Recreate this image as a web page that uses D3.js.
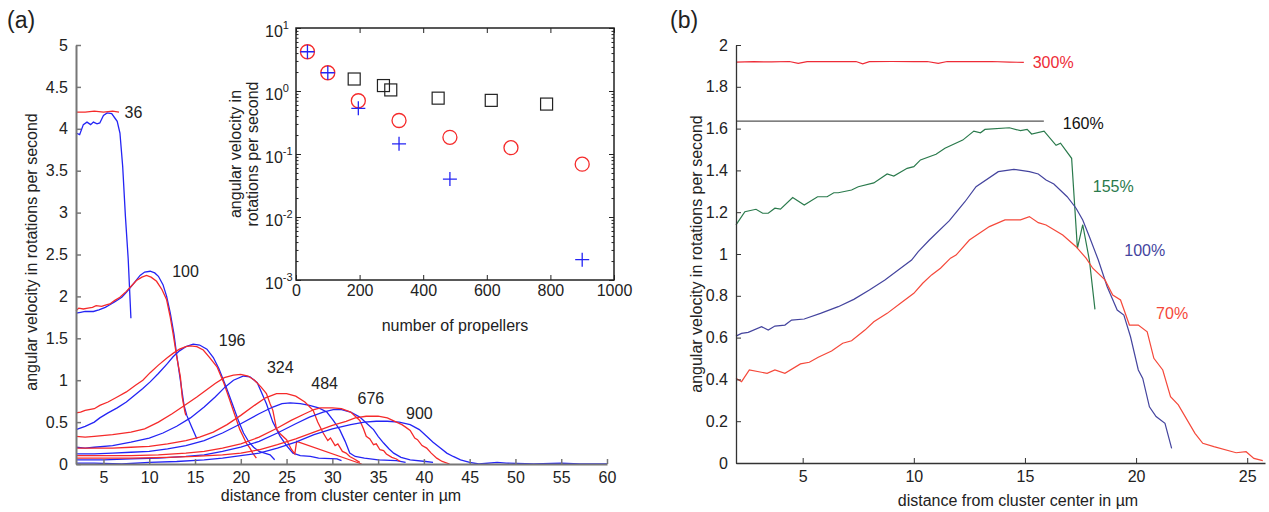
<!DOCTYPE html>
<html>
<head>
<meta charset="utf-8">
<script src="https://cdn.jsdelivr.net/npm/d3@7/dist/d3.min.js"></script>
<style>
  body { margin: 0; background: #fff; }
  svg text { font-family: "Liberation Sans", Arial, sans-serif; fill: #222; }
</style>
</head>
<body>
<div id="chart"></div>
<script>
// ---------------------------------------------------------------------------
// Datos panel (a): perfiles por numero de helices (x en um, y en rot/s)
// ---------------------------------------------------------------------------
var red36  = [[2,4.2],[3,4.2],[4,4.21],[5,4.2],[6,4.21],[6.7,4.2]];
var blue36 = [[2,3.95],[2.4,3.93],[2.8,4.05],[3.2,4.08],[3.6,4.05],[3.9,4.08],[4.3,4.06],[4.6,4.07],[5.0,4.16],[5.4,4.19],[5.9,4.18],[6.3,4.12],[6.5,4.09],[6.8,3.95],[7.1,3.55],[7.4,2.95],[7.7,2.45],[8.0,1.74]];

var red100  = [[2,1.83],[2.3,1.86],[2.8,1.85],[3.3,1.86],[3.8,1.87],[4.2,1.89],[4.8,1.88],[5.3,1.9],[5.7,1.91],[6.2,1.95],[6.8,1.99],[7.5,2.06],[8.1,2.13],[8.6,2.19],[9.2,2.23],[9.7,2.25],[10.2,2.23],[10.8,2.18],[11.4,2.08],[11.9,1.96],[12.3,1.75],[12.6,1.56],[13.0,1.28],[13.4,1.04],[13.6,0.8],[13.9,0.62],[14.0,0.58]];
var blue100 = [[2,1.8],[2.5,1.81],[3,1.82],[3.9,1.82],[4.5,1.84],[5.2,1.87],[5.7,1.9],[6.3,1.94],[7,1.99],[7.5,2.05],[8.2,2.14],[9,2.25],[9.5,2.29],[10.1,2.3],[10.6,2.28],[11.0,2.24],[11.5,2.14],[11.9,2.0],[12.3,1.8],[12.7,1.55],[13.0,1.3],[13.4,1.0],[13.8,0.7],[14.1,0.58],[14.6,0.45],[15.2,0.3]];

var red196  = [[2,0.61],[2.5,0.62],[3,0.64],[4,0.66],[4.6,0.7],[5.5,0.74],[6.5,0.8],[7.5,0.86],[8.5,0.94],[9.3,1.0],[10.1,1.09],[11,1.18],[12,1.27],[12.6,1.32],[13.3,1.37],[14,1.4],[14.5,1.41],[15.2,1.4],[15.9,1.36],[16.6,1.27],[17.4,1.16],[18.1,0.98],[18.8,0.76],[19.3,0.6],[19.9,0.41],[20.3,0.32],[20.6,0.25],[21.0,0.19],[21.3,0.13],[21.7,0.07]];
var blue196 = [[2,0.41],[3,0.45],[4,0.5],[4.6,0.55],[5.5,0.61],[6.5,0.67],[7.5,0.74],[8.5,0.83],[9.3,0.9],[10.1,0.98],[11,1.08],[12,1.2],[12.6,1.28],[13.3,1.35],[14,1.4],[14.8,1.43],[15.5,1.42],[16.3,1.37],[17,1.27],[17.6,1.14],[18.4,0.92],[19.2,0.68],[19.8,0.5],[20.3,0.37],[20.9,0.26],[21.4,0.2],[22,0.15],[22.6,0.13],[23.2,0.11],[23.7,0.05]];

var red324  = [[2,0.33],[3,0.32],[4,0.33],[6,0.35],[8,0.38],[9.5,0.42],[11,0.5],[12.5,0.6],[14,0.71],[15.2,0.8],[16.2,0.88],[17.2,0.96],[18.2,1.03],[19.2,1.06],[20,1.07],[20.8,1.05],[21.5,1.0],[22.2,0.92],[22.8,0.84],[23.2,0.72],[23.5,0.64],[23.9,0.42],[24.3,0.36],[25,0.29],[25.5,0.18],[25.9,0.12],[26.1,0.27],[33.2,0.0]];
var blue324 = [[2,0.2],[3,0.19],[4,0.2],[6,0.22],[8,0.26],[10,0.31],[11.5,0.37],[13,0.45],[14.5,0.55],[16,0.68],[17.2,0.8],[18.3,0.92],[19.2,1.0],[20.3,1.05],[21,1.04],[21.8,0.97],[22.8,0.72],[23.5,0.5],[24.3,0.33],[25,0.22],[25.7,0.13],[26.5,0.1],[27.6,0.09],[28.5,0.07],[30.5,0.06],[31,0.04]];

var red484  = [[2,0.19],[4,0.19],[6,0.19],[8,0.2],[10,0.21],[12,0.24],[14,0.28],[15.5,0.32],[17,0.38],[18.5,0.47],[20,0.58],[21.5,0.7],[22.7,0.79],[23.9,0.84],[25,0.84],[26,0.81],[27,0.74],[27.9,0.64],[28.4,0.5],[29,0.37],[29.5,0.28],[29.8,0.31],[30.3,0.22],[30.6,0.24],[31.1,0.15],[31.5,0.13],[31.9,0.09],[32.4,0.06],[33,0.02]];
var blue484 = [[2,0.12],[4,0.12],[6,0.13],[8,0.14],[10,0.15],[12,0.18],[14,0.22],[16,0.28],[18,0.37],[20,0.48],[22,0.6],[23.5,0.68],[24.5,0.72],[25.4,0.73],[26.5,0.72],[27.5,0.7],[28.5,0.67],[29.4,0.62],[30.1,0.52],[30.8,0.41],[31.4,0.27],[31.9,0.13],[32.5,0.09],[33.5,0.07],[35,0.05],[37,0.04],[38,0.02]];

var red676  = [[2,0.1],[5,0.1],[8,0.1],[11,0.11],[14,0.13],[16,0.15],[18,0.19],[20,0.24],[22,0.32],[24,0.43],[25.5,0.52],[27,0.6],[28,0.65],[28.7,0.67],[30,0.67],[31,0.66],[32,0.62],[32.5,0.57],[33,0.52],[33.4,0.42],[33.7,0.33],[34.1,0.3],[34.5,0.23],[34.8,0.24],[35.2,0.17],[35.6,0.16],[35.9,0.12],[36.5,0.08],[37,0.06],[37.4,0.03]];
var blue676 = [[2,0.05],[5,0.05],[8,0.06],[11,0.07],[14,0.09],[16,0.11],[18,0.15],[20,0.2],[22,0.27],[24,0.37],[26,0.48],[27.5,0.56],[29,0.62],[30.1,0.65],[31,0.65],[32,0.62],[33,0.56],[33.8,0.48],[34.5,0.41],[35,0.33],[35.6,0.25],[36.2,0.18],[36.7,0.13],[37.5,0.08],[38.5,0.05],[40.2,0.03],[41,0.02]];

var red900  = [[2,0.07],[5,0.07],[8,0.07],[12,0.08],[15,0.09],[18,0.11],[20,0.13],[22,0.17],[24,0.23],[26,0.3],[28,0.38],[30,0.46],[31.5,0.51],[32.5,0.55],[33.7,0.57],[35,0.57],[36,0.55],[37,0.5],[37.6,0.47],[38,0.44],[38.5,0.4],[39,0.31],[39.3,0.29],[39.8,0.22],[40.3,0.19],[40.8,0.13],[41.4,0.07],[42,0.03],[42.8,0.0]];
var blue900 = [[2,0.01],[4,0.01],[7,0.0],[10,0.02],[13,0.03],[16,0.05],[18,0.07],[20,0.1],[22,0.13],[24,0.19],[26,0.26],[28,0.35],[30,0.42],[32,0.47],[33.5,0.5],[34.8,0.51],[36,0.51],[37.3,0.5],[38.5,0.47],[39.5,0.41],[40.3,0.33],[41,0.26],[41.8,0.19],[42.5,0.13],[43.2,0.09],[44,0.05],[45,0.02],[46,0.0],[48,0.02],[49,0.01],[52,0.0],[55,0.01],[57,0.0],[60,0.0]];

// etiquetas de cada curva: [texto, x, y]
var curveLabels = [["36",7.3,4.13],["100",12.5,2.23],["196",17.6,1.41],["324",22.85,1.08],["484",27.7,0.9],["676",32.75,0.72],["900",38.05,0.54]];

// ---------------------------------------------------------------------------
// Datos inset: velocidad vs numero de helices (escala log)
// ---------------------------------------------------------------------------
var insetCircles = [[36,4.2],[100,1.95],[196,0.70],[324,0.34],[484,0.184],[676,0.126],[900,0.069]];
var insetCrosses = [[36,4.2],[100,1.95],[196,0.53],[324,0.145],[484,0.04],[900,0.0021]];
var insetSquares = [[183,1.55],[275,1.22],[298,1.04],[447,0.77],[614,0.71],[788,0.62]];

// ---------------------------------------------------------------------------
// Datos panel (b): perfiles por porcentaje
// ---------------------------------------------------------------------------
var b300 = [[2,1.918],[2.8,1.92],[3.6,1.919],[4.4,1.921],[4.8,1.912],[5.2,1.92],[6,1.921],[6.8,1.92],[7.4,1.921],[7.7,1.91],[8,1.92],[9,1.921],[10,1.92],[10.6,1.921],[11.1,1.912],[11.5,1.921],[12.5,1.92],[13.5,1.921],[14.3,1.918],[14.95,1.917]];
var b160 = [[2,1.636],[15.85,1.636]];
var b155 = [[2.0,1.139],[2.4,1.202],[2.9,1.214],[3.2,1.195],[3.45,1.195],[3.75,1.219],[4.0,1.215],[4.55,1.27],[5.07,1.234],[5.67,1.274],[6.1,1.274],[6.4,1.293],[6.6,1.293],[7.2,1.306],[7.5,1.322],[8.2,1.34],[8.8,1.383],[9.1,1.373],[9.7,1.41],[10.0,1.418],[10.3,1.45],[11.0,1.477],[11.4,1.506],[12.2,1.545],[12.7,1.588],[13.0,1.58],[13.2,1.596],[14.3,1.604],[14.8,1.59],[15.1,1.596],[15.3,1.574],[15.86,1.588],[16.4,1.52],[16.6,1.53],[17.1,1.458],[17.36,1.027],[17.6,1.14],[17.9,0.97],[18.15,0.735]];
var b100 = [[2.0,0.607],[2.25,0.62],[2.55,0.625],[3.15,0.652],[3.45,0.636],[3.75,0.655],[4.2,0.66],[4.5,0.684],[5.07,0.689],[5.8,0.716],[6.6,0.748],[7.3,0.783],[8.0,0.828],[8.7,0.876],[9.3,0.923],[9.9,0.971],[10.2,1.011],[10.7,1.067],[11.6,1.16],[12.3,1.25],[12.8,1.322],[13.8,1.394],[14.5,1.405],[15.2,1.394],[15.6,1.383],[15.95,1.354],[16.3,1.335],[16.9,1.274],[17.3,1.219],[17.6,1.163],[17.9,1.083],[18.3,0.971],[18.7,0.843],[19.15,0.732],[19.45,0.708],[19.75,0.604],[20.1,0.445],[20.3,0.405],[20.6,0.269],[20.9,0.222],[21.3,0.19],[21.6,0.07]];
var b70  = [[2.0,0.405],[2.25,0.389],[2.6,0.445],[3.4,0.429],[3.75,0.445],[4.2,0.429],[4.9,0.474],[5.3,0.482],[5.7,0.506],[6.3,0.536],[6.8,0.573],[7.2,0.585],[7.8,0.636],[8.2,0.676],[8.8,0.716],[9.4,0.764],[10.0,0.812],[10.4,0.86],[10.8,0.9],[11.2,0.932],[11.65,0.98],[11.9,0.995],[12.5,1.067],[13.4,1.131],[14.1,1.163],[14.8,1.163],[15.2,1.179],[15.6,1.15],[15.95,1.139],[16.7,1.091],[17.3,1.035],[17.75,0.98],[18.05,0.932],[18.6,0.876],[18.95,0.804],[19.3,0.78],[19.7,0.66],[20.1,0.66],[20.5,0.628],[20.8,0.501],[21.2,0.445],[21.55,0.317],[21.9,0.278],[22.65,0.142],[23.0,0.094],[23.5,0.078],[24.5,0.049],[24.95,0.054],[25.3,0.022],[25.7,0.011]];

var bSeries = [
  {name:"300%", data:b300, color:"#ee2b36", text:"#ee2b36", lx:15.35, ly:1.92},
  {name:"160%", data:b160, color:"#555555", text:"#111111", lx:16.7, ly:1.625},
  {name:"155%", data:b155, color:"#2a7a4c", text:"#2a7a4c", lx:18.05, ly:1.325},
  {name:"100%", data:b100, color:"#44449e", text:"#44449e", lx:19.47, ly:1.02},
  {name:"70%",  data:b70,  color:"#f5483a", text:"#f5483a", lx:20.9, ly:0.72}
];

// ---------------------------------------------------------------------------
var svg = d3.select("#chart").append("svg")
    .attr("width", 1269)
    .attr("height", 512);

// ============================ Panel (a) ====================================
var xa = d3.scaleLinear().domain([2, 60]).range([76, 607]);
var ya = d3.scaleLinear().domain([0, 5]).range([464, 45]);

var lineA = d3.line()
    .x(function(d) { return xa(d[0]); })
    .y(function(d) { return ya(d[1]); });

var pairs = [[red36,blue36],[red100,blue100],[red196,blue196],[red324,blue324],[red484,blue484],[red676,blue676],[red900,blue900]];

var ga = svg.append("g");
pairs.forEach(function(p) {
  ga.append("path").attr("d", lineA(p[1]))
    .attr("fill","none").attr("stroke","#2424f4").attr("stroke-width",1.3);
  ga.append("path").attr("d", lineA(p[0]))
    .attr("fill","none").attr("stroke","#f52a2a").attr("stroke-width",1.3);
});

ga.selectAll(".clab")
  .data(curveLabels)
  .enter().append("text")
    .attr("x", function(d) { return xa(d[1]); })
    .attr("y", function(d) { return ya(d[2]); })
    .attr("font-size", 16)
    .text(function(d) { return d[0]; });

// ejes (a)
var axA_x = svg.append("g")
    .attr("transform", "translate(0,464)")
    .call(d3.axisBottom(xa).tickValues(d3.range(5, 61, 5)).tickSizeInner(-5).tickSizeOuter(0).tickPadding(8));
var axA_y = svg.append("g")
    .attr("transform", "translate(76,0)")
    .call(d3.axisLeft(ya).tickValues(d3.range(0, 5.01, 0.5)).tickFormat(d3.format("~g")).tickSizeInner(-5).tickSizeOuter(0).tickPadding(8));
[axA_x, axA_y].forEach(function(g) {
  g.attr("font-size", 16);
  g.select(".domain").attr("stroke", "#777").attr("stroke-width", 2);
  g.selectAll(".tick line").attr("stroke", "#777").attr("stroke-width", 1.5);
});

svg.append("text")
    .attr("transform", "translate(37,252) rotate(-90)")
    .attr("text-anchor", "middle")
    .attr("font-size", 16)
    .text("angular velocity in rotations per second");
svg.append("text")
    .attr("x", 341).attr("y", 501)
    .attr("text-anchor", "middle")
    .attr("font-size", 16)
    .text("distance from cluster center in µm");
svg.append("text").attr("x", 7).attr("y", 28).attr("font-size", 23).text("(a)");

// ============================ Inset ========================================
var xi = d3.scaleLinear().domain([0, 1000]).range([296, 614]);
var yi = d3.scaleLog().domain([1e-3, 10]).range([280, 28]);

var gi = svg.append("g");
gi.append("rect")
    .attr("x", 296).attr("y", 28).attr("width", 318).attr("height", 252)
    .attr("fill", "#fff");

var allLogTicks = yi.ticks();
var isMajor = function(v) { return Math.abs(Math.log10(v) - Math.round(Math.log10(v))) < 1e-6; };
var minorTicks = allLogTicks.filter(function(v) { return !isMajor(v); });
var majorTicks = allLogTicks.filter(isMajor);

function styleInsetAxis(g) {
  g.select(".domain").remove();
  g.selectAll(".tick line").attr("stroke", "#222").attr("stroke-width", 1);
}
gi.append("g").attr("transform", "translate(0,280)")
  .call(d3.axisBottom(xi).tickValues(d3.range(0, 1001, 200)).tickFormat(d3.format("d")).tickSizeInner(-5).tickSizeOuter(0).tickPadding(5))
  .attr("font-size", 16).call(styleInsetAxis);
gi.append("g").attr("transform", "translate(0,28)")
  .call(d3.axisTop(xi).tickValues(d3.range(0, 1001, 200)).tickSizeInner(-5).tickSizeOuter(0).tickFormat(""))
  .call(styleInsetAxis);
gi.append("g").attr("transform", "translate(296,0)")
  .call(d3.axisLeft(yi).tickValues(majorTicks).tickSizeInner(-5).tickSizeOuter(0).tickFormat(""))
  .call(styleInsetAxis);
gi.append("g").attr("transform", "translate(296,0)")
  .call(d3.axisLeft(yi).tickValues(minorTicks).tickSizeInner(-2.5).tickSizeOuter(0).tickFormat(""))
  .call(styleInsetAxis);
gi.append("g").attr("transform", "translate(614,0)")
  .call(d3.axisRight(yi).tickValues(majorTicks).tickSizeInner(-5).tickSizeOuter(0).tickFormat(""))
  .call(styleInsetAxis);
gi.append("g").attr("transform", "translate(614,0)")
  .call(d3.axisRight(yi).tickValues(minorTicks).tickSizeInner(-2.5).tickSizeOuter(0).tickFormat(""))
  .call(styleInsetAxis);

// etiquetas 10^n
var ylab = gi.selectAll(".ylog")
  .data(majorTicks)
  .enter().append("text")
    .attr("x", 265)
    .attr("y", function(d) { return yi(d) + 9; })
    .attr("font-size", 16);
ylab.append("tspan").text("10");
ylab.append("tspan")
    .attr("dy", -8)
    .attr("font-size", 11)
    .text(function(d) { return Math.round(Math.log10(d)); });

gi.append("rect")
    .attr("x", 296).attr("y", 28).attr("width", 318).attr("height", 252)
    .attr("fill", "none").attr("stroke", "#222").attr("stroke-width", 1.5);

// marcadores
gi.selectAll(".sq")
  .data(insetSquares)
  .enter().append("rect")
    .attr("x", function(d) { return xi(d[0]) - 6; })
    .attr("y", function(d) { return yi(d[1]) - 6; })
    .attr("width", 12).attr("height", 12)
    .attr("fill", "none").attr("stroke", "#222").attr("stroke-width", 1.2);
gi.selectAll(".ci")
  .data(insetCircles)
  .enter().append("circle")
    .attr("cx", function(d) { return xi(d[0]); })
    .attr("cy", function(d) { return yi(d[1]); })
    .attr("r", 7)
    .attr("fill", "none").attr("stroke", "#f52a2a").attr("stroke-width", 1.3);
gi.selectAll(".cr")
  .data(insetCrosses)
  .enter().append("path")
    .attr("d", function(d) {
      var cx = xi(d[0]), cy = yi(d[1]);
      return "M" + (cx - 7) + "," + cy + "H" + (cx + 7) + "M" + cx + "," + (cy - 7) + "V" + (cy + 7);
    })
    .attr("stroke", "#2424f4").attr("stroke-width", 1.3);

gi.append("text")
    .attr("x", 455).attr("y", 331)
    .attr("text-anchor", "middle")
    .attr("font-size", 16)
    .text("number of propellers");
var ilab = gi.append("text")
    .attr("transform", "translate(241,154) rotate(-90)")
    .attr("text-anchor", "middle")
    .attr("font-size", 16);
ilab.append("tspan").attr("x", 0).attr("dy", 0).text("angular velocity in");
ilab.append("tspan").attr("x", 0).attr("dy", 17).text("rotations per second");

// ============================ Panel (b) ====================================
var xb = d3.scaleLinear().domain([2, 25.8]).range([736, 1265]);
var yb = d3.scaleLinear().domain([0, 2]).range([463, 45]);

var lineB = d3.line()
    .x(function(d) { return xb(d[0]); })
    .y(function(d) { return yb(d[1]); });

var gb = svg.append("g");
bSeries.forEach(function(s) {
  gb.append("path").attr("d", lineB(s.data))
    .attr("fill", "none").attr("stroke", s.color).attr("stroke-width", 1.2);
  gb.append("text")
    .attr("x", xb(s.lx)).attr("y", yb(s.ly) + 6)
    .attr("font-size", 16)
    .style("fill", s.text)
    .text(s.name);
});

var axB_x = svg.append("g")
    .attr("transform", "translate(0,463)")
    .call(d3.axisBottom(xb).tickValues(d3.range(5, 26, 5)).tickSizeInner(-5).tickSizeOuter(0).tickPadding(8));
var axB_y = svg.append("g")
    .attr("transform", "translate(736,0)")
    .call(d3.axisLeft(yb).tickValues(d3.range(0, 2.01, 0.2)).tickFormat(d3.format("~g")).tickSizeInner(-5).tickSizeOuter(0).tickPadding(8));
[axB_x, axB_y].forEach(function(g) {
  g.attr("font-size", 16);
  g.select(".domain").attr("stroke", "#333").attr("stroke-width", 1.3);
  g.selectAll(".tick line").attr("stroke", "#333");
});

svg.append("text")
    .attr("transform", "translate(702,254) rotate(-90)")
    .attr("text-anchor", "middle")
    .attr("font-size", 16)
    .text("angular velocity in rotations per second");
svg.append("text")
    .attr("x", 1018).attr("y", 506)
    .attr("text-anchor", "middle")
    .attr("font-size", 16)
    .text("distance from cluster center in µm");
svg.append("text").attr("x", 670).attr("y", 28).attr("font-size", 23).text("(b)");
</script>
</body>
</html>
